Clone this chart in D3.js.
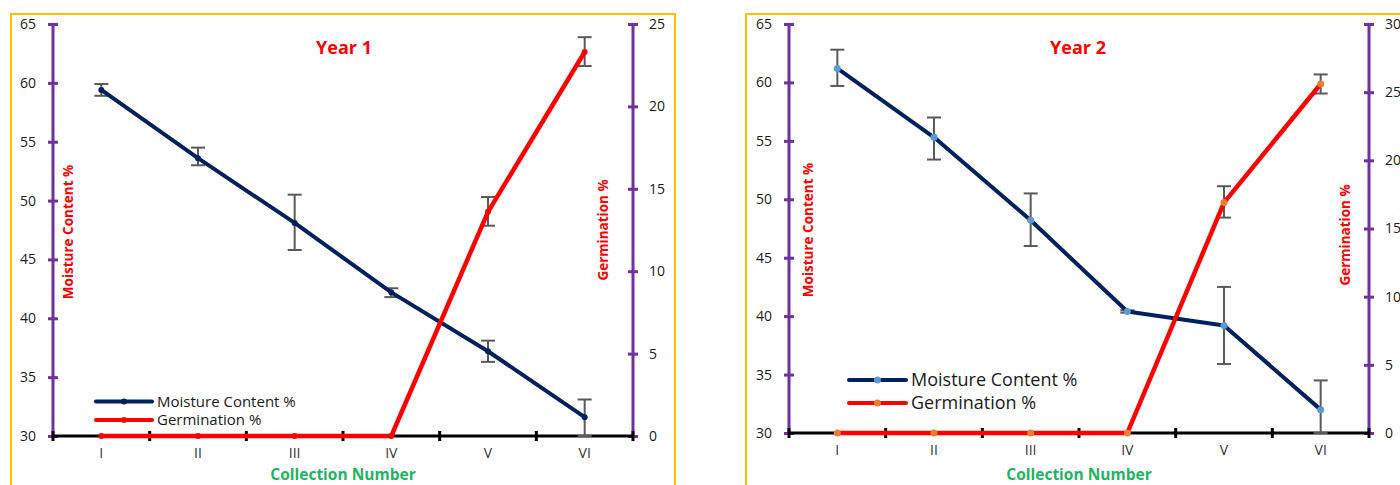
<!DOCTYPE html>
<html><head><meta charset="utf-8">
<script src="https://cdn.jsdelivr.net/npm/d3@7"></script>
<style>body{margin:0;background:#fff}svg{display:block}text{font-family:"Open Sans",sans-serif}</style>
</head><body><svg id="c" width="1400" height="485"></svg>
<script>
const categories = ["I","II","III","IV","V","VI"];
const moistureY1 = [59.4, 53.6, 48.1, 42.2, 37.2, 31.6];
const moistureY1Err = [[58.9,59.9],[53.0,54.5],[45.8,50.5],[41.8,42.55],[36.3,38.1],[30.0,33.1]];
const germY1 = [0, 0, 0, 0, 13.6, 23.3];
const germY1Err = [null,null,null,null,[12.76,14.5],[22.45,24.2]];
const moistureY2 = [61.2, 55.3, 48.2, 40.4, 39.2, 32.0];
const moistureY2Err = [[59.7,62.8],[53.4,57.0],[46.0,50.5],[40.3,40.5],[35.9,42.5],[30.0,34.5]];
const germY2 = [0, 0, 0, 0, 16.9, 25.6];
const germY2Err = [null,null,null,null,[15.8,18.1],[24.9,26.3]];
const leftTicks = [30,35,40,45,50,55,60,65];
const rightTicksY1 = [0,5,10,15,20,25];
const rightTicksY2 = [0,5,10,15,20,25,30];

const svg = d3.select("#c");

function panel(cfg){
  const g = svg.append("g");
  g.append("rect").attr("x",cfg.frame[0]).attr("y",14).attr("width",cfg.frame[1]-cfg.frame[0]).attr("height",520)
    .attr("fill","none").attr("stroke","#FFC000").attr("stroke-width",2);
  const x = d3.scaleBand().domain(categories).range([cfg.x0,cfg.x1]);
  const cx = d => x(d)+x.bandwidth()/2;
  const yL = d3.scaleLinear().domain([30,65]).range([cfg.yb,24]);
  const yR = d3.scaleLinear().domain([0,cfg.rMax]).range([cfg.yb,24]);

  const la = g.append("g").attr("transform",`translate(${cfg.x0},0)`)
    .call(d3.axisLeft(yL).tickValues(leftTicks).tickSize(5).tickPadding(12));
  la.select(".domain").attr("stroke","#7030A0").attr("stroke-width",3).attr("d",`M0,${cfg.yb}V24`);
  la.selectAll(".tick line").attr("stroke","#7030A0").attr("stroke-width",3).attr("x1",-5).attr("x2",5);
  la.selectAll(".tick text").attr("font-size",cfg.tickFs).attr("fill","#1a1a1a").attr("font-family","Open Sans");
  const ra = g.append("g").attr("transform",`translate(${cfg.x1},0)`)
    .call(d3.axisRight(yR).tickValues(cfg.rTicks).tickSize(5).tickPadding(11));
  ra.select(".domain").attr("stroke","#7030A0").attr("stroke-width",3).attr("d",`M0,${cfg.yb}V24`);
  ra.selectAll(".tick line").attr("stroke","#7030A0").attr("stroke-width",3).attr("x1",-5).attr("x2",5);
  ra.selectAll(".tick text").attr("font-size",cfg.tickFs).attr("fill","#1a1a1a").attr("font-family","Open Sans");
  const bounds = d3.range(1,6).map(i=>cfg.x0 + i*x.step());
  g.append("line").attr("x1",cfg.x0).attr("x2",cfg.x1).attr("y1",cfg.yb).attr("y2",cfg.yb).attr("stroke","#000").attr("stroke-width",3);
  g.selectAll(".bt").data(bounds.concat([cfg.x0,cfg.x1])).join("line").attr("x1",d=>d).attr("x2",d=>d)
    .attr("y1",cfg.yb-5).attr("y2",cfg.yb+5).attr("stroke","#000").attr("stroke-width",3);
  g.selectAll(".cl").data(categories).join("text").attr("x",cx).attr("y",cfg.yb+22).attr("text-anchor","middle")
    .attr("font-size",cfg.tickFs).attr("fill","#333").text(d=>d);

  g.append("text").attr("x",cfg.titleX).attr("y",54).attr("text-anchor","middle").attr("font-weight","bold")
    .attr("font-size",18).attr("fill","#FF0000").text(cfg.title);
  g.append("text").attr("x",(cfg.x0+cfg.x1)/2).attr("y",479.5).attr("text-anchor","middle").attr("font-weight","bold")
    .attr("font-size",15.5).attr("fill","#22B35E").text("Collection Number");
  g.append("text").attr("transform",`translate(${cfg.lTitle[0]},${cfg.lTitle[1]}) rotate(-90)`).attr("text-anchor","middle")
    .attr("font-weight","bold").attr("font-size",13.5).attr("fill","#FF0000").text("Moisture Content %");
  g.append("text").attr("transform",`translate(${cfg.rTitle[0]},${cfg.rTitle[1]}) rotate(-90)`).attr("text-anchor","middle")
    .attr("font-weight","bold").attr("font-size",13.5).attr("fill","#FF0000").text("Germination %");

  const mLine = d3.line().x((d,i)=>cx(categories[i])).y(d=>yL(d));
  const gLine = d3.line().x((d,i)=>cx(categories[i])).y(d=>yR(d));
  function errs(data, ys){
    data.forEach((e,i)=>{
      if(!e) return;
      const xx = cx(categories[i]);
      g.append("line").attr("x1",xx).attr("x2",xx).attr("y1",ys(e[0])).attr("y2",ys(e[1])).attr("stroke","#595959").attr("stroke-width",2);
      [e[0],e[1]].forEach(v=>g.append("line").attr("x1",xx-7).attr("x2",xx+7).attr("y1",ys(v)).attr("y2",ys(v)).attr("stroke","#595959").attr("stroke-width",2));
    });
  }
  errs(cfg.mErr, yL);
  errs(cfg.gErr, yR);
  g.append("path").datum(cfg.m).attr("d",mLine).attr("fill","none").attr("stroke","#002060").attr("stroke-width",4).attr("stroke-linejoin","round");
  g.append("path").datum(cfg.gm).attr("d",gLine).attr("fill","none").attr("stroke","#FF0000").attr("stroke-width",4.5).attr("stroke-linejoin","round");
  g.selectAll(".mm").data(cfg.m).join("circle").attr("cx",(d,i)=>cx(categories[i])).attr("cy",d=>yL(d)).attr("r",cfg.mr).attr("fill",cfg.mc);
  g.selectAll(".gm").data(cfg.gm).join("circle").attr("cx",(d,i)=>cx(categories[i])).attr("cy",d=>yR(d)).attr("r",cfg.mr).attr("fill",cfg.gc);

  const L = cfg.leg;
  [["Moisture Content %","#002060",cfg.mc,L.y1],["Germination %","#FF0000",cfg.gc,L.y2]].forEach(([t,c,mc,yy])=>{
    g.append("line").attr("x1",L.x0).attr("x2",L.x1).attr("y1",yy).attr("y2",yy).attr("stroke",c).attr("stroke-width",4).attr("stroke-linecap","round");
    g.append("circle").attr("cx",(L.x0+L.x1)/2).attr("cy",yy).attr("r",cfg.mr).attr("fill",mc);
    g.append("text").attr("x",L.x1+5).attr("y",yy).attr("dy","0.35em").attr("font-size",L.fs).attr("fill","#1a1a1a").text(t);
  });
}

panel({frame:[11,675], x0:53, x1:633, yb:436, rMax:25, rTicks:rightTicksY1, tickFs:14,
  title:"Year 1", titleX:344, lTitle:[73,232], rTitle:[608,230],
  m:moistureY1, mErr:moistureY1Err, gm:germY1, gErr:germY1Err, mr:3, mc:"#002060", gc:"#FF0000",
  leg:{x0:96,x1:152,y1:401.5,y2:420,fs:15}});
panel({frame:[746,1420], x0:789, x1:1369, yb:433, rMax:30, rTicks:rightTicksY2, tickFs:14,
  title:"Year 2", titleX:1078, lTitle:[813,230], rTitle:[1350,235],
  m:moistureY2, mErr:moistureY2Err, gm:germY2, gErr:germY2Err, mr:3.5, mc:"#5B9BD5", gc:"#ED7D31",
  leg:{x0:849,x1:906,y1:380,y2:403,fs:18}});
</script></body></html>
